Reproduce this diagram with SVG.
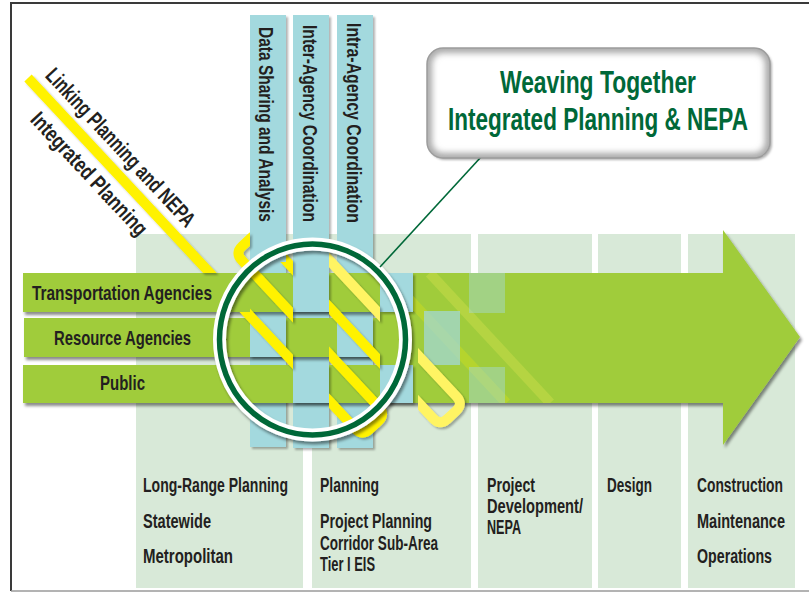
<svg xmlns="http://www.w3.org/2000/svg" width="809" height="601" viewBox="0 0 809 601">
<defs>
<style>
.col{fill:#d8e9d8}
.strip{fill:#a3d9de}
.bar{fill:#a0cc3a}
.lbl{font-family:"Liberation Sans Narrow","Liberation Sans",Arial,sans-serif;font-weight:bold;fill:#231f20;font-size:20px}
.big{font-size:21px}
.diag{font-size:22px}
.yb{fill:none;stroke:#fff200;stroke-width:10;stroke-linejoin:round}
.yp{fill:none;stroke:#fff463;stroke-width:10;stroke-linejoin:round}
.title{font-family:"Liberation Sans Narrow","Liberation Sans",Arial,sans-serif;font-weight:bold;fill:#006838;font-size:31px}
</style>
<filter id="sh" x="-20%" y="-20%" width="140%" height="140%"><feDropShadow dx="2" dy="3" stdDeviation="1.8" flood-color="#000" flood-opacity="0.45"/></filter>
<filter id="shs" x="-30%" y="-30%" width="160%" height="160%"><feDropShadow dx="2" dy="2" stdDeviation="1.2" flood-color="#000" flood-opacity="0.3"/></filter>
<filter id="blur" x="-10%" y="-10%" width="120%" height="120%"><feGaussianBlur stdDeviation="3"/></filter>
<clipPath id="cb"><path clip-rule="evenodd" d="M0,0H809V601H0Z M23,273H250V312H23Z M250,0H286V262H250Z M293,0H329V601H293Z M380,340H420V403H380Z"/></clipPath>
<clipPath id="cp"><rect x="329" y="0" width="51" height="601"/><rect x="418" y="0" width="100" height="601"/></clipPath>
<clipPath id="ca"><rect x="413" y="273" width="200" height="130"/></clipPath>
<clipPath id="cbox"><rect x="427" y="48" width="343" height="110" rx="16"/></clipPath>
</defs>

<g id="frame" fill="none">
<line x1="11" y1="3" x2="809" y2="3" stroke="#3a3a3a" stroke-width="2"/>
<line x1="11" y1="2" x2="11" y2="591" stroke="#3a3a3a" stroke-width="2"/>
<line x1="11" y1="591" x2="809" y2="591" stroke="#9a9a9a" stroke-width="1.5"/>
</g>

<g id="col-long-range">
<rect class="col" x="136" y="234" width="167" height="354"/>
<text class="lbl" x="143" y="492" textLength="145" lengthAdjust="spacingAndGlyphs">Long-Range Planning</text>
<text class="lbl" x="143" y="528" textLength="68" lengthAdjust="spacingAndGlyphs">Statewide</text>
<text class="lbl" x="143" y="563" textLength="90" lengthAdjust="spacingAndGlyphs">Metropolitan</text>
</g>
<g id="col-planning">
<rect class="col" x="312" y="234" width="159" height="354"/>
<text class="lbl" x="320" y="492" textLength="59" lengthAdjust="spacingAndGlyphs">Planning</text>
<text class="lbl" x="320" y="528" textLength="112" lengthAdjust="spacingAndGlyphs">Project Planning</text>
<text class="lbl" x="320" y="550" textLength="118" lengthAdjust="spacingAndGlyphs">Corridor Sub-Area</text>
<text class="lbl" x="320" y="571" textLength="55" lengthAdjust="spacingAndGlyphs">Tier I EIS</text>
</g>
<g id="col-project-development">
<rect class="col" x="478" y="234" width="114" height="354"/>
<text class="lbl" x="487" y="492" textLength="48" lengthAdjust="spacingAndGlyphs">Project</text>
<text class="lbl" x="487" y="513" textLength="96" lengthAdjust="spacingAndGlyphs">Development/</text>
<text class="lbl" x="487" y="534" textLength="34" lengthAdjust="spacingAndGlyphs">NEPA</text>
</g>
<g id="col-design">
<rect class="col" x="598" y="234" width="83" height="354"/>
<text class="lbl" x="607" y="492" textLength="45" lengthAdjust="spacingAndGlyphs">Design</text>
</g>
<g id="col-construction">
<rect class="col" x="688" y="234" width="107" height="354"/>
<text class="lbl" x="697" y="492" textLength="86" lengthAdjust="spacingAndGlyphs">Construction</text>
<text class="lbl" x="697" y="528" textLength="88" lengthAdjust="spacingAndGlyphs">Maintenance</text>
<text class="lbl" x="697" y="563" textLength="75" lengthAdjust="spacingAndGlyphs">Operations</text>
</g>

<g id="strip-data-sharing">
<rect class="strip" x="250" y="15" width="36" height="432" filter="url(#shs)"/>
<text class="lbl big" transform="translate(259,27) rotate(90)" textLength="195" lengthAdjust="spacingAndGlyphs">Data Sharing and Analysis</text>
</g>
<g id="strip-inter-agency">
<rect class="strip" x="293" y="15" width="36" height="433" filter="url(#shs)"/>
<text class="lbl big" transform="translate(303,25) rotate(90)" textLength="197" lengthAdjust="spacingAndGlyphs">Inter-Agency Coordination</text>
</g>
<g id="strip-intra-agency">
<rect class="strip" x="337" y="15" width="36" height="433" filter="url(#shs)"/>
<text class="lbl big" transform="translate(347,23) rotate(90)" textLength="200" lengthAdjust="spacingAndGlyphs">Intra-Agency Coordination</text>
</g>

<g id="arrow">
<path class="bar" filter="url(#sh)" d="M23,273 H723 V230 L800,337 L723,445 V403 H23 V365 H380 V357 H24 V318 H380 V312 H23 Z"/>
</g>

<g id="weave-cells" filter="url(#shs)">
<rect class="strip" x="250" y="318" width="36" height="39"/>
<rect class="strip" x="293" y="273" width="36" height="39"/>
<rect class="strip" x="293" y="365" width="36" height="38"/>
<rect class="strip" x="337" y="318" width="36" height="39"/>
<rect class="strip" x="380" y="273" width="33" height="39"/>
<rect class="strip" x="380" y="365" width="33" height="38"/>
</g>
<g id="faint-weave">
<g clip-path="url(#ca)" opacity="0.22">
<line x1="385" y1="273" x2="506.3" y2="403" stroke="#fff200" stroke-width="10"/>
<line x1="429.6" y1="273" x2="550.2" y2="403" stroke="#fff35c" stroke-width="10"/>
</g>
<rect x="424" y="311" width="36" height="54" fill="#a3d9de" opacity="0.7"/>
<rect x="469" y="273" width="36" height="40" fill="#a3d9de" opacity="0.45"/>
<rect x="469" y="367" width="36" height="36" fill="#a3d9de" opacity="0.45"/>
</g>

<g id="yellow-lines" filter="url(#shs)">
<path class="yb" clip-path="url(#cb)" d="M28,78 L355.4,428.9 Q362.2,436.2 369.5,429.4 L378.3,421.2 Q385.6,414.4 378.8,407.1 L241.7,260.2 Q234.9,252.9 242.2,246.1 L251,237.9 Q258.3,231.1 265.1,238.4 L400,382.9"/>
<path class="yp" clip-path="url(#cp)" d="M400,382.9 L433.2,418.5 Q440,425.8 447.3,419 L456.1,410.8 Q463.4,404 456.6,396.7 L322,252.4"/>
</g>

<g id="row-labels">
<text class="lbl big" x="32" y="300" textLength="180" lengthAdjust="spacingAndGlyphs">Transportation Agencies</text>
<text class="lbl big" x="54" y="345" textLength="137" lengthAdjust="spacingAndGlyphs">Resource Agencies</text>
<text class="lbl big" x="100" y="390" textLength="45" lengthAdjust="spacingAndGlyphs">Public</text>
</g>

<g id="weave-circle" filter="url(#sh)">
<ellipse cx="312.5" cy="339.5" rx="93" ry="95.5" fill="none" stroke="#fff" stroke-width="13"/>
<ellipse cx="312.5" cy="339.5" rx="93" ry="95.5" fill="none" stroke="#006838" stroke-width="5.5"/>
</g>

<g id="connectors">
<line x1="380" y1="267" x2="481" y2="157" stroke="#006838" stroke-width="1.6"/>
</g>

<g id="callout">
<rect x="427" y="48" width="343" height="110" rx="16" fill="#fff" filter="url(#shs)"/>
<g clip-path="url(#cbox)"><rect x="427" y="48" width="343" height="110" rx="16" fill="none" stroke="#a8a8a8" stroke-width="10" filter="url(#blur)"/></g>
<rect x="427" y="48" width="343" height="110" rx="16" fill="none" stroke="#9c9c9c" stroke-width="1.5"/>
<text class="title" x="598" y="93" text-anchor="middle" textLength="196" lengthAdjust="spacingAndGlyphs">Weaving Together</text>
<text class="title" x="598" y="130" text-anchor="middle" textLength="300" lengthAdjust="spacingAndGlyphs">Integrated Planning &amp; NEPA</text>
</g>

<g id="diagonal-labels">
<text class="lbl diag" transform="translate(44.3,76.4) rotate(47)" textLength="208" lengthAdjust="spacingAndGlyphs">Linking Planning and NEPA</text>
<text class="lbl diag" transform="translate(29.3,120.5) rotate(47)" textLength="160" lengthAdjust="spacingAndGlyphs">Integrated Planning</text>
</g>
</svg>
